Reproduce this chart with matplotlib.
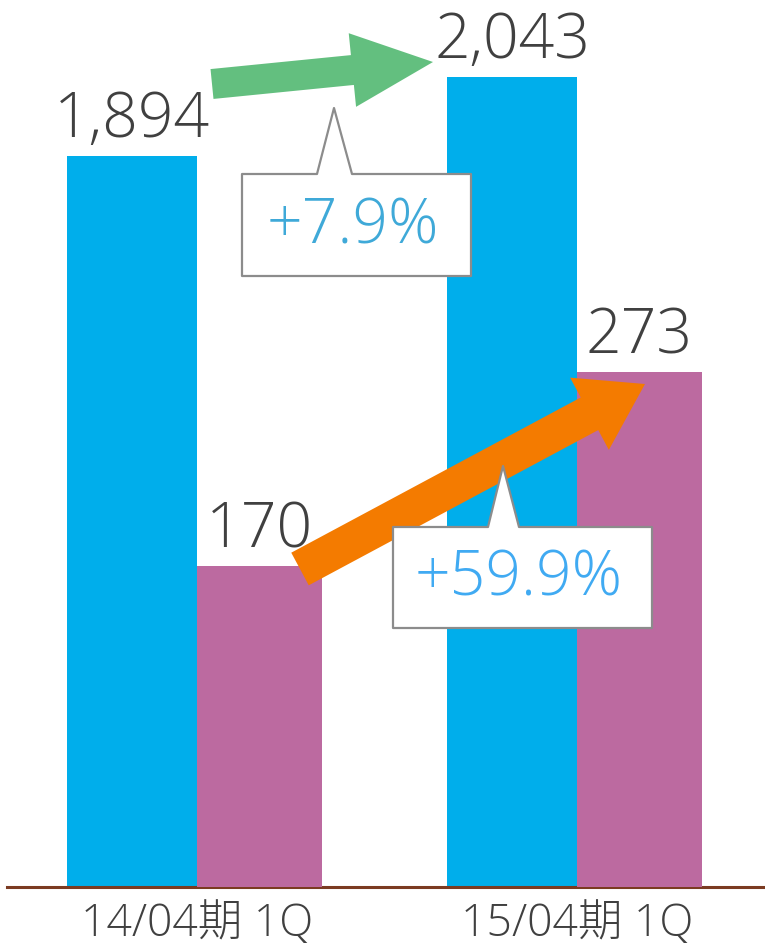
import numpy as np
import matplotlib
matplotlib.use("Agg")
import matplotlib.pyplot as plt
from matplotlib.patches import Polygon


periods = ["14/04期 1Q", "15/04期 1Q"]
sales = [1894, 2043]
profit = [170, 273]
growth_labels = ["+7.9%", "+59.9%"]

BLUE = "#00AEEB"
PURPLE = "#BC6AA0"
ORANGE = "#F47B00"
GREEN = "#63BF7F"
TEXT = "#404040"
FONT = ["Open Sans", "Noto Sans CJK JP", "DejaVu Sans"]
WEIGHT = 300

W, H = 765, 943


def arrow_poly(x0, y0, x1, y1, w, hw, hl):
    d = np.array([x1 - x0, y1 - y0], dtype=float)
    length = np.hypot(*d)
    u = d / length
    n = np.array([-u[1], u[0]])
    p0 = np.array([x0, y0], dtype=float)
    b = p0 + u * (length - hl)
    return [p0 + n * w / 2, b + n * w / 2, b + n * hw / 2, np.array([x1, y1]),
            b - n * hw / 2, b - n * w / 2, p0 - n * w / 2]


def callout_poly(x0, y0, x1, y1, bx0, bx1, tx, ty):
    return [(x0, y0), (bx0, y0), (tx, ty), (bx1, y0), (x1, y0), (x1, y1), (x0, y1)]


def main():
    fig = plt.figure(figsize=(W / 100, H / 100), dpi=100)
    ax = fig.add_axes([7 / W, 56 / H, 760 / W, 887 / H])
    ax2 = ax.twinx()

    x = np.arange(len(periods))
    ax.bar(x, sales, width=-0.342, align="edge", color=BLUE, zorder=2)
    ax2.bar(x, profit, width=0.329, align="edge", color=PURPLE, zorder=2)

    ax.set_xlim(-0.5, 1.5)
    ax.set_ylim(515, 2188)
    ax2.set_ylim(0, 470)

    for xi, v in zip(x, sales):
        ax.annotate(f"{v:,}", (xi - 0.171, v), xytext=(0, 13.5), textcoords="offset points",
                    ha="center", va="baseline", fontsize=45, color=TEXT,
                    family=FONT, fontweight=WEIGHT)
    for xi, v in zip(x, profit):
        ax2.annotate(f"{v:,}", (xi + 0.1645, v), xytext=(0, 13.5), textcoords="offset points",
                     ha="center", va="baseline", fontsize=45, color=TEXT,
                     family=FONT, fontweight=WEIGHT)

    ax.set_xticks(x)
    ax.set_xticklabels(periods, fontsize=32, color=TEXT, family=FONT, fontweight=WEIGHT)
    ax.tick_params(axis="x", length=0, pad=11)
    ax.set_yticks([])
    ax2.set_yticks([])
    for a in (ax, ax2):
        for s in ("top", "left", "right"):
            a.spines[s].set_visible(False)
    ax2.spines["bottom"].set_visible(False)
    ax.spines["bottom"].set_color("#7B3B22")
    ax.spines["bottom"].set_linewidth(2.2)
    ax.spines["bottom"].set_zorder(3)

    # overlay in pixel coordinates for arrows and callouts
    ov = fig.add_axes([0, 0, 1, 1], zorder=5)
    ov.set_xlim(0, W)
    ov.set_ylim(H, 0)
    ov.axis("off")
    ov.patch.set_alpha(0)

    ov.add_patch(Polygon(arrow_poly(212, 84, 433, 62, 30, 74, 81), closed=True,
                         facecolor=GREEN, edgecolor="none"))
    ov.add_patch(Polygon(arrow_poly(300, 569, 645, 384, 37, 82, 63), closed=True,
                         facecolor=ORANGE, edgecolor="none"))

    boxes = [
        (242, 174, 471, 276, 317, 352, 334, 108, "#3FA9D8"),
        (393, 527, 652, 628, 488, 519, 503, 466, "#40AAF2"),
    ]
    for (x0, y0, x1, y1, bx0, bx1, tx, ty, col), lab in zip(boxes, growth_labels):
        ov.add_patch(Polygon(callout_poly(x0, y0, x1, y1, bx0, bx1, tx, ty), closed=True,
                             facecolor="white", edgecolor="#8C8C8C", linewidth=1.6,
                             joinstyle="round"))
        ov.text((x0 + x1) / 2 - 4, (y0 + y1) / 2 + 2, lab, ha="center", va="center",
                fontsize=45, color=col, family=FONT, fontweight=WEIGHT)

    fig.savefig("out.png", dpi=100)
    plt.close(fig)


if __name__ == "__main__":
    main()
